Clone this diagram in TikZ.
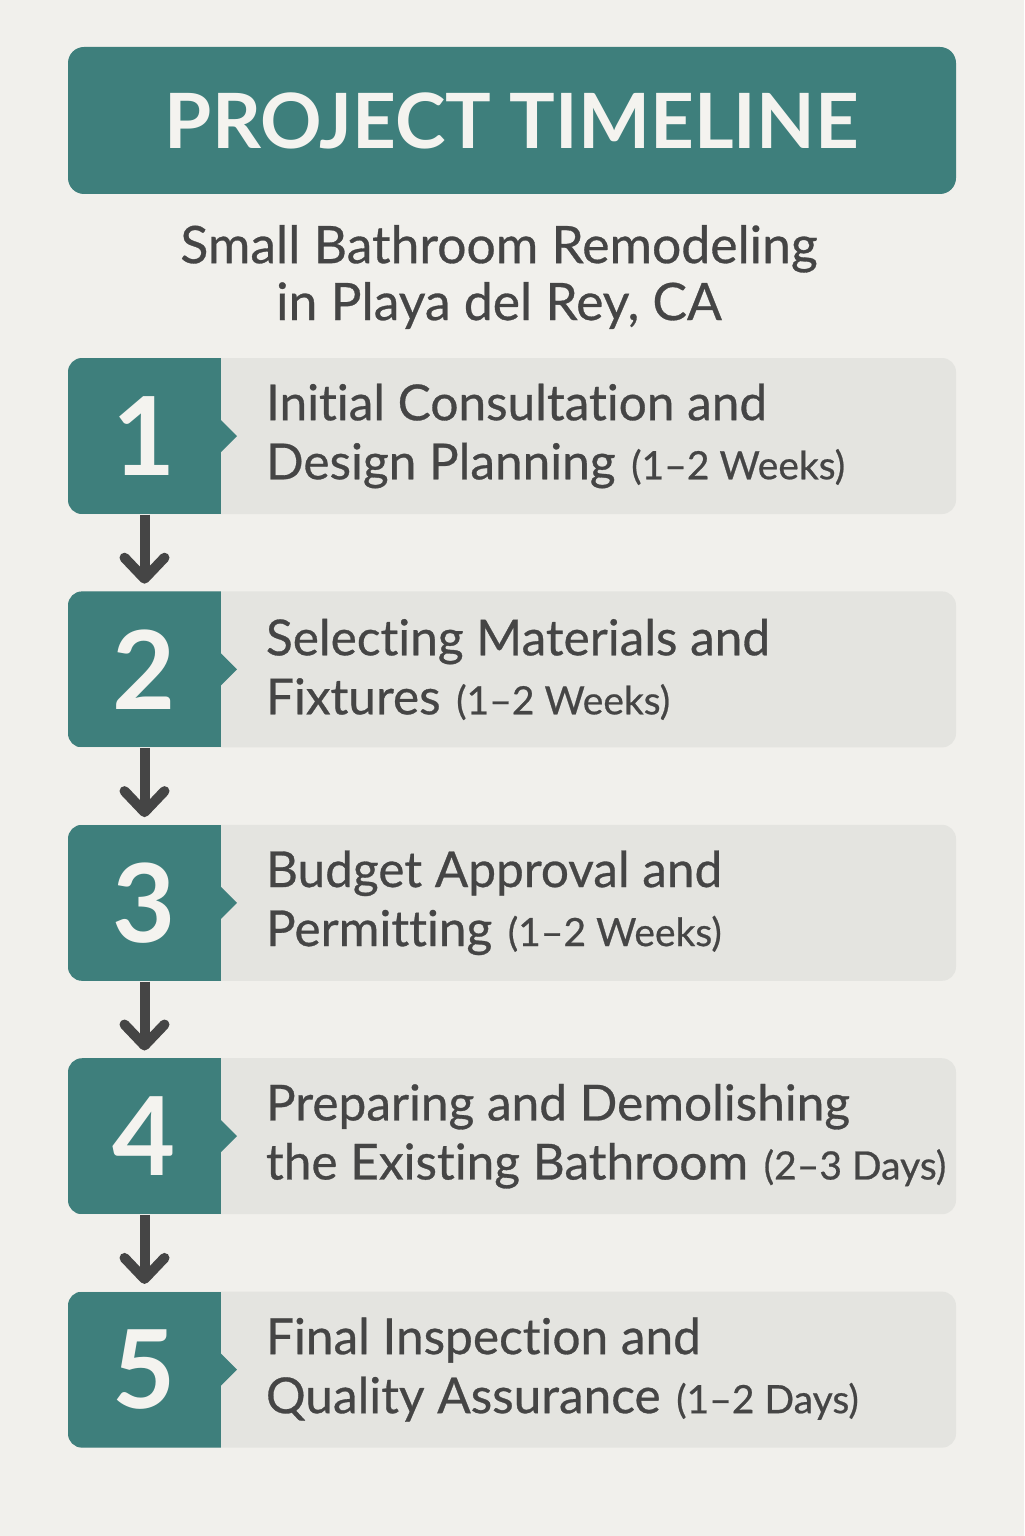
\documentclass[tikz,border=0pt]{standalone}
\usepackage{fontspec}
\setmainfont{Lato}[Ligatures=NoCommon, UprightFeatures={FakeBold=0.6}]
\usetikzlibrary{positioning}
\usetikzlibrary{arrows.meta}
\definecolor{bgpaper}{HTML}{F1F0EC}
\definecolor{tealbox}{HTML}{3E7F7C}
\definecolor{panelgrey}{HTML}{E4E4E0}
\definecolor{darktext}{HTML}{454545}
\definecolor{lighttext}{HTML}{F4F3EF}
\newcommand{\stepdur}[1]{\hspace{0.03cm}{\fontsize{11.1}{12}\selectfont #1}}

\begin{document}
\begin{tikzpicture}[>={Straight Barb[round, length=0.21cm, width=0.4cm]}, node distance=0.76cm, text=darktext, font=\fontsize{14.1}{16.8}\selectfont]
    \tikzstyle{titlebox}=[rectangle, rounded corners=0.16cm, fill=tealbox, minimum width=8.88cm, minimum height=1.47cm, inner sep=0pt, text=lighttext, font=\fontsize{21.7}{24}\selectfont\bfseries]
    \tikzstyle{panel}=[rectangle, rounded corners=0.14cm, fill=panelgrey, minimum width=8.88cm, minimum height=1.56cm, inner sep=0pt,
        path picture={\fill[tealbox, sharp corners] (path picture bounding box.north west) rectangle ([xshift=1.53cm]path picture bounding box.south west);
            \fill[tealbox, sharp corners] ([xshift=1.53cm, yshift=0.16cm]path picture bounding box.west) -- ++(0.16,-0.16) -- ++(-0.16,-0.16) -- cycle;}]
    \tikzstyle{num}=[rectangle, minimum width=1.53cm, minimum height=1.56cm, inner sep=0pt, anchor=west, text=lighttext, font=\fontsize{31}{31}\selectfont\bfseries]
    \tikzstyle{steptext}=[anchor=west, align=left, inner sep=0pt]
    \tikzstyle{flow}=[->, draw=darktext, line width=0.1cm, shorten >=0.07cm]

    \fill[bgpaper] (0,0) rectangle (10.24,-15.36);
    \useasboundingbox (0,0) rectangle (10.24,-15.36);

    \node[titlebox] (title) at (5.12,-1.205) {PROJECT TIMELINE};
    \node[align=center, font=\fontsize{14.7}{16.2}\selectfont] (sub) at (4.99,-2.77) {Small Bathroom Remodeling\\in Playa del Rey, CA};

    \node[panel] (p1) at (5.12,-4.36) {};
    \node[panel, below=of p1] (p2) {};
    \node[panel, below=of p2] (p3) {};
    \node[panel, below=of p3] (p4) {};
    \node[panel, below=of p4] (p5) {};

    \node[num] (n1) at (p1.west) {1};
    \node[num] (n2) at (p2.west) {2};
    \node[num] (n3) at (p3.west) {3};
    \node[num] (n4) at (p4.west) {4};
    \node[num] (n5) at (p5.west) {5};

    \node[steptext] (t1) at ([xshift=1.98cm]p1.west) {Initial Consultation and\\Design Planning \stepdur{(1–2 Weeks)}};
    \node[steptext] (t2) at ([xshift=1.98cm]p2.west) {Selecting Materials and\\Fixtures \stepdur{(1–2 Weeks)}};
    \node[steptext] (t3) at ([xshift=1.98cm]p3.west) {Budget Approval and\\Permitting \stepdur{(1–2 Weeks)}};
    \node[steptext] (t4) at ([xshift=1.98cm]p4.west) {Preparing and Demolishing\\the Existing Bathroom \stepdur{(2–3 Days)}};
    \node[steptext] (t5) at ([xshift=1.98cm]p5.west) {Final Inspection and\\Quality Assurance \stepdur{(1–2 Days)}};

    \draw[flow] (n1) -- (n2);
    \draw[flow] (n2) -- (n3);
    \draw[flow] (n3) -- (n4);
    \draw[flow] (n4) -- (n5);
\end{tikzpicture}
\end{document}
